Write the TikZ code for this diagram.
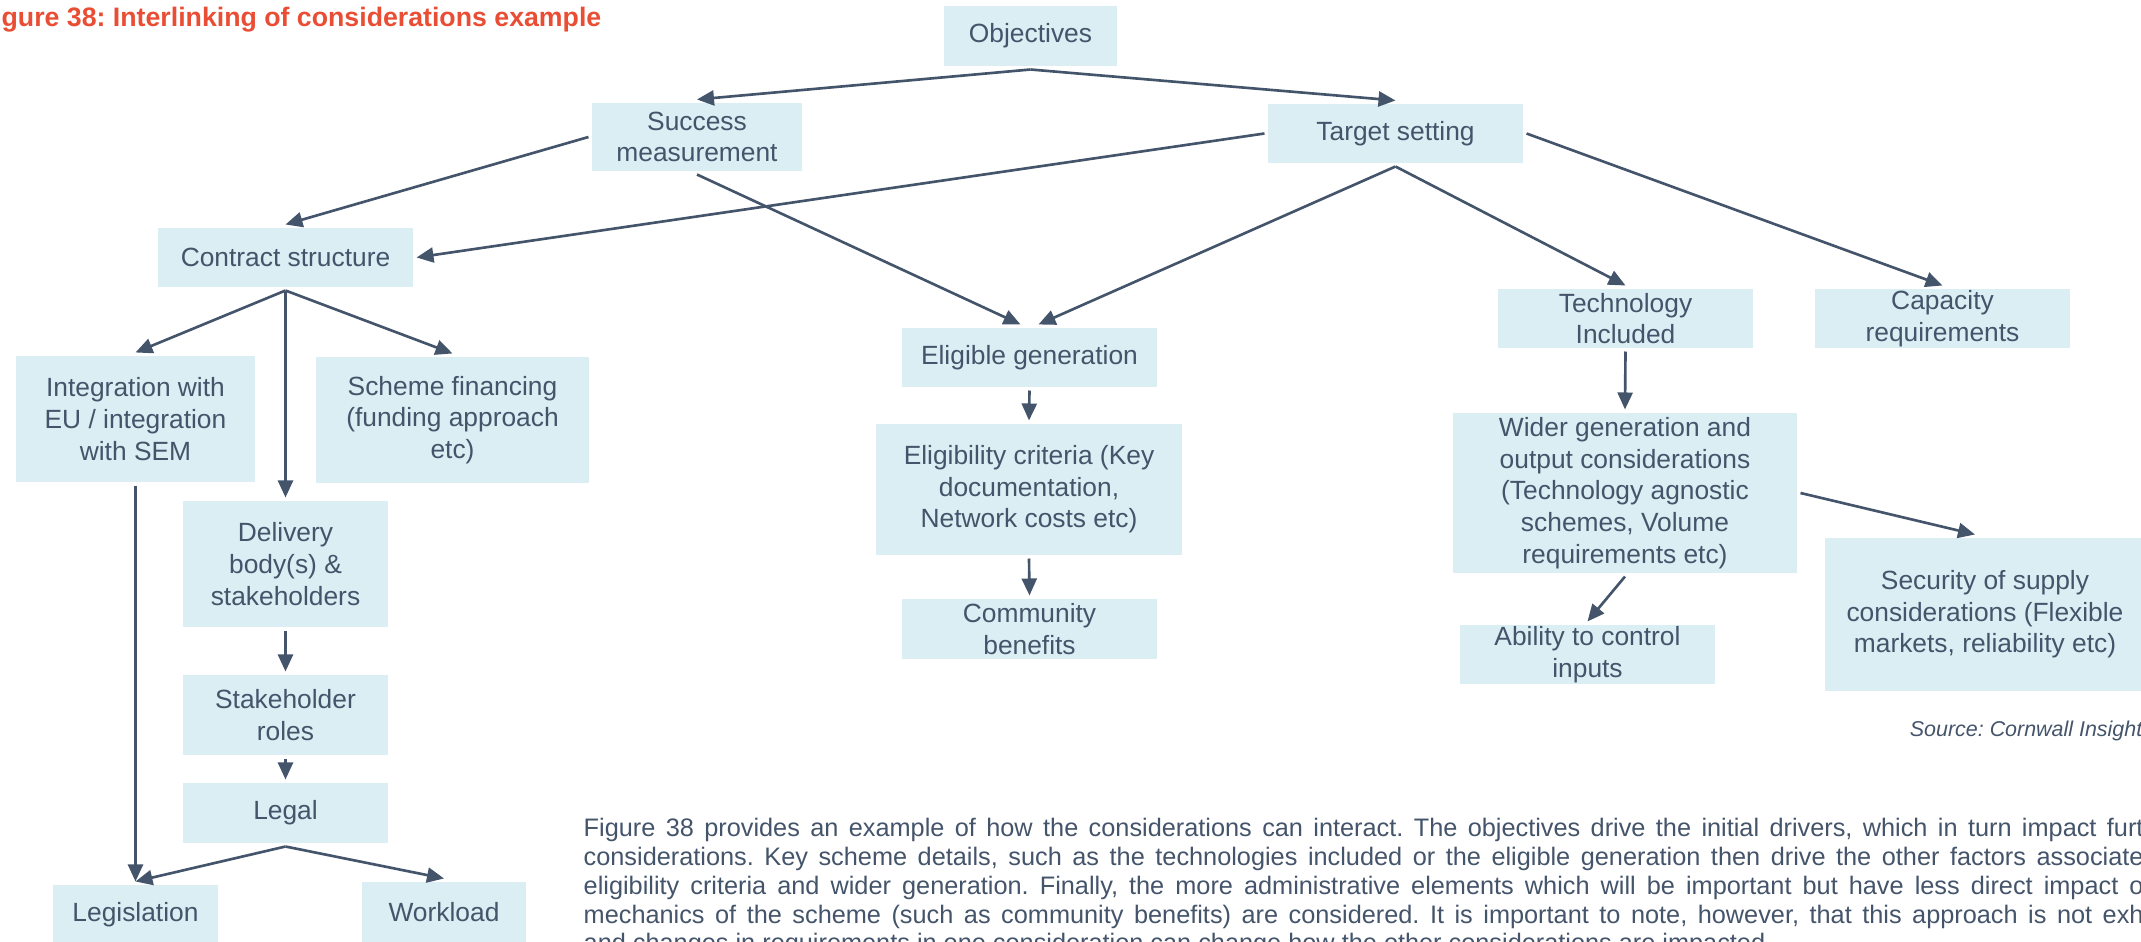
\documentclass[tikz,border=0pt]{standalone}
\usepackage{fontspec}
\setmainfont{Liberation Sans}
\usepackage{tikz}
\usetikzlibrary{arrows.meta}
\definecolor{paleblue}{HTML}{DAEEF3}
\definecolor{slate}{HTML}{44546A}
\definecolor{titlered}{HTML}{E94E34}
\tikzset{
	>={Triangle[length=1.7mm, width=1.5mm]},
	% riquadro di una considerazione
	consid/.style={fill=paleblue, text=slate, inner sep=0pt, outer sep=1pt, align=center,
	               minimum width=2.55cm, minimum height=0.59cm, font=\fontsize{7.5}{9}\selectfont},
	% collegamento tra considerazioni
	conn/.style={->, draw=slate, line width=0.75pt},
}
% riga giustificata del testo
\newcommand{\rigagiust}[1]{\makebox[15.60cm][s]{#1}}
\frenchspacing

\begin{document}
\begin{tikzpicture}
    \useasboundingbox (0,0) rectangle (21.41,-9.42);
    \clip (0,0) rectangle (21.41,-9.42);

    % ---------------- titolo e testo ----------------
    \node[anchor=base east, inner sep=0pt, text=titlered, font=\bfseries\fontsize{7.6}{9}\selectfont] (titolo) at (6.02,-0.27)
        {Figure 38: Interlinking of considerations example};
    \node[anchor=base east, inner sep=0pt, text=slate, font=\itshape\fontsize{6.1}{7}\selectfont] (fonte) at (21.43,-7.37)
        {Source: Cornwall Insight};
    \node[anchor=base west, text=slate, align=left, inner sep=0pt, font=\fontsize{7.2}{8.25}\selectfont] (testo) at (5.83,-9.52)
        {\rigagiust{Figure 38 provides an example of how the considerations can interact. The objectives drive the initial drivers, which in turn impact furt}\\
         \rigagiust{considerations. Key scheme details, such as the technologies included or the eligible generation then drive the other factors associate}\\
         \rigagiust{eligibility criteria and wider generation. Finally, the more administrative elements which will be important but have less direct impact o}\\
         \rigagiust{mechanics of the scheme (such as community benefits) are considered. It is important to note, however, that this approach is not exh}\\
         and changes in requirements in one consideration can change how the other considerations are impacted.};

    % ---------------- livello alto ----------------
    \node[consid, minimum width=1.73cm, minimum height=0.60cm] (obj) at (10.305,-0.36) {Objectives};
    \node[consid, minimum width=2.10cm, minimum height=0.68cm] (succ) at (6.97,-1.37) {Success\\measurement};
    \node[consid] (targ) at (13.955,-1.335) {Target setting};

    % ---------------- ramo sinistro ----------------
    \node[consid] (contr) at (2.855,-2.575) {Contract structure};
    \node[consid, minimum width=2.39cm, minimum height=1.26cm] (integ) at (1.355,-4.19) {Integration with\\EU / integration\\with SEM};
    \node[consid, minimum width=2.73cm, minimum height=1.26cm] (sfin) at (4.525,-4.20) {Scheme financing\\(funding approach\\etc)};
    \node[consid, minimum width=2.05cm, minimum height=1.26cm] (deliv) at (2.855,-5.64) {Delivery\\body(s) \&\\stakeholders};
    \node[consid, minimum width=2.05cm, minimum height=0.80cm] (sroles) at (2.855,-7.15) {Stakeholder\\roles};
    \node[consid, minimum width=2.05cm, minimum height=0.60cm] (legal) at (2.855,-8.13) {Legal};
    \node[consid, minimum width=1.65cm, minimum height=0.60cm] (legis) at (1.355,-9.15) {Legislation};
    \node[consid, minimum width=1.64cm, minimum height=0.60cm] (workl) at (4.44,-9.12) {Workload};

    % ---------------- ramo centrale ----------------
    \node[consid] (eligen) at (10.295,-3.575) {Eligible generation};
    \node[consid, minimum width=3.06cm, minimum height=1.31cm] (crit) at (10.29,-4.895) {Eligibility criteria (Key\\documentation,\\Network costs etc)};
    \node[consid, minimum height=0.60cm] (comm) at (10.295,-6.29) {Community\\benefits};

    % ---------------- ramo destro ----------------
    \node[consid] (tech) at (16.255,-3.185) {Technology\\Included};
    \node[consid] (capac) at (19.425,-3.185) {Capacity\\requirements};
    \node[consid, minimum width=3.44cm, minimum height=1.60cm] (wider) at (16.25,-4.93) {Wider generation and\\output considerations\\(Technology agnostic\\schemes, Volume\\requirements etc)};
    \node[consid] (abil) at (15.875,-6.545) {Ability to control\\inputs};
    \node[consid, minimum width=3.20cm, minimum height=1.53cm] (secur) at (19.85,-6.145) {Security of supply\\considerations (Flexible\\markets, reliability etc)};

    % ---------------- collegamenti ----------------
    % obiettivi -> driver iniziali
    \draw[conn] (obj.south) -- (succ.north);
    \draw[conn] (obj.south) -- (targ.north);
    % driver -> struttura del contratto
    \draw[conn] (succ.west) -- (contr.north);
    \draw[conn] (targ.west) -- (contr.east);
    % driver -> generazione ammissibile
    \draw[conn] (succ.south) -- ([xshift=-0.09cm]eligen.north);
    \draw[conn] (targ.south) -- ([xshift=0.09cm]eligen.north);
    \draw[conn] (targ.south) -- (tech.north);
    \draw[conn] (targ.east) -- (capac.north);
    % struttura del contratto
    \draw[conn] (contr.south) -- (integ.north);
    \draw[conn] (contr.south) -- (deliv.north);
    \draw[conn] (contr.south) -- (sfin.north);
    \draw[conn] (integ.south) -- (legis.north);
    \draw[conn] (deliv.south) -- (sroles.north);
    \draw[conn] (sroles.south) -- (legal.north);
    \draw[conn] (legal.south) -- (legis.north);
    \draw[conn] (legal.south) -- (workl.north);
    % ammissibilita
    \draw[conn] (eligen.south) -- (crit.north);
    \draw[conn] (crit.south) -- (comm.north);
    % tecnologia
    \draw[conn] (tech.south) -- (wider.north);
    \draw[conn] (wider.south) -- (abil.north);
    \draw[conn] (wider.east) -- ([xshift=-0.1cm]secur.north);
\end{tikzpicture}
\end{document}
